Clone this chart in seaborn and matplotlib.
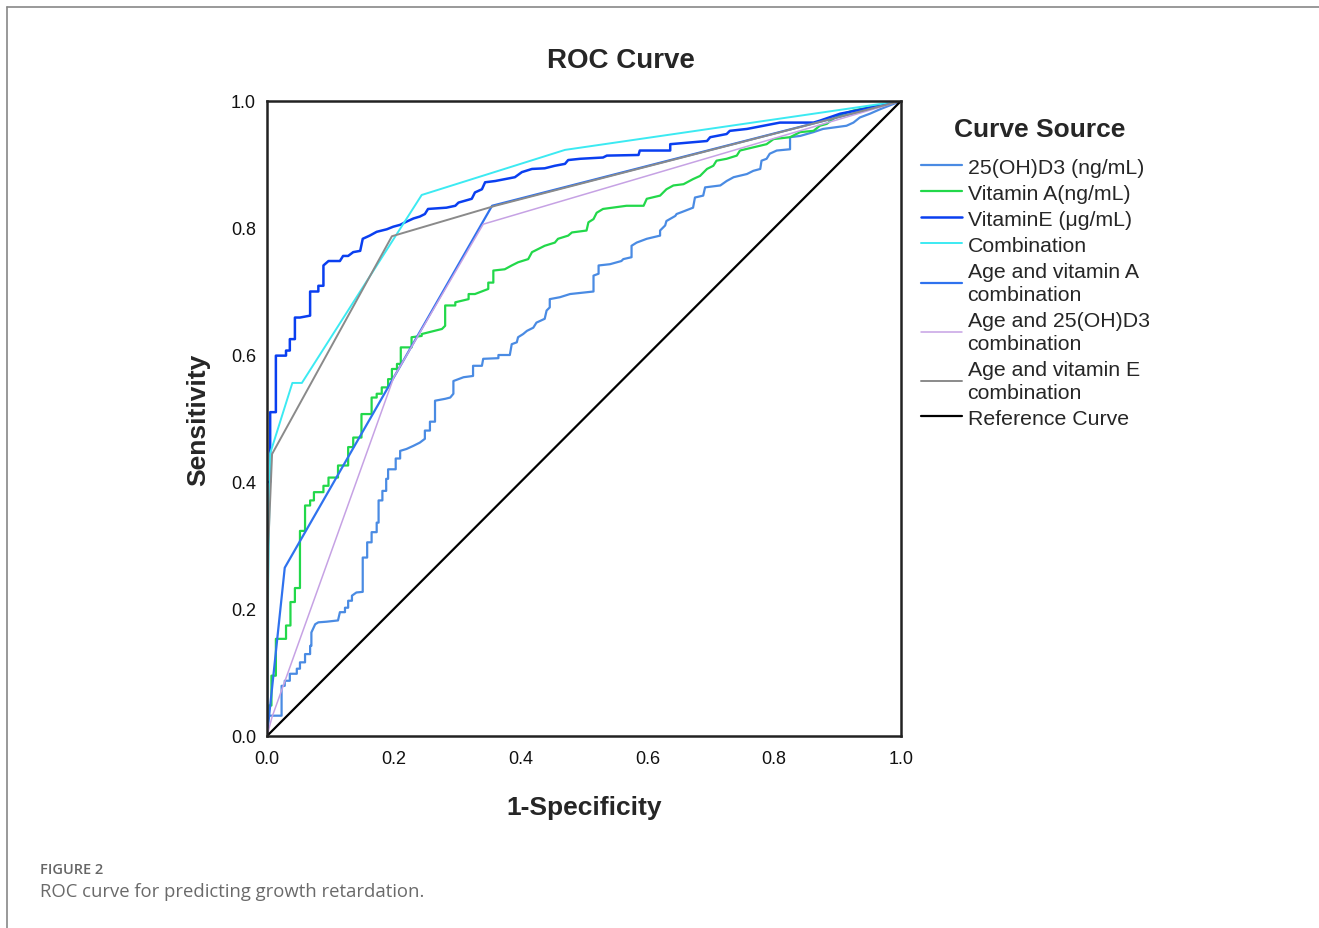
import matplotlib
matplotlib.use("Agg")
import matplotlib.pyplot as plt
from matplotlib.lines import Line2D
import seaborn as sns

# --- ROC curves (x = 1-specificity, y = sensitivity) ---
d3_x = [0, 0.000, 0.002, 0.023, 0.023, 0.028, 0.028, 0.036, 0.036, 0.047, 0.047, 0.052, 0.052, 0.060, 0.060,
        0.068, 0.068, 0.070, 0.070, 0.076, 0.081, 0.094, 0.112, 0.115, 0.123, 0.123, 0.128, 0.128, 0.134, 0.134,
        0.141, 0.151, 0.151, 0.158, 0.158, 0.165, 0.165, 0.173, 0.173, 0.176, 0.176, 0.182, 0.182, 0.188, 0.188,
        0.191, 0.191, 0.203, 0.203, 0.210, 0.210, 0.220, 0.231, 0.241, 0.249, 0.249, 0.257, 0.257, 0.265, 0.265,
        0.281, 0.289, 0.294, 0.294, 0.310, 0.325, 0.325, 0.339, 0.341, 0.365, 0.365, 0.383, 0.386, 0.394, 0.396,
        0.404, 0.410, 0.420, 0.425, 0.438, 0.441, 0.446, 0.446, 0.462, 0.478, 0.515, 0.515, 0.523, 0.523, 0.541,
        0.559, 0.562, 0.575, 0.575, 0.583, 0.599, 0.620, 0.620, 0.628, 0.630, 0.644, 0.646, 0.654, 0.672, 0.675,
        0.688, 0.691, 0.715, 0.725, 0.736, 0.757, 0.767, 0.778, 0.780, 0.788, 0.793, 0.804, 0.825, 0.825, 0.841,
        0.862, 0.877, 0.899, 0.914, 0.925, 0.935, 0.951, 0.967, 1.0]
d3_y = [0, 0.006, 0.032, 0.032, 0.079, 0.079, 0.087, 0.087, 0.098, 0.098, 0.106, 0.106, 0.116, 0.116, 0.129,
        0.129, 0.142, 0.142, 0.163, 0.176, 0.179, 0.180, 0.182, 0.195, 0.195, 0.202, 0.202, 0.213, 0.213, 0.221,
        0.226, 0.227, 0.281, 0.281, 0.305, 0.305, 0.321, 0.321, 0.336, 0.336, 0.371, 0.371, 0.386, 0.386, 0.405,
        0.405, 0.420, 0.420, 0.437, 0.437, 0.449, 0.452, 0.457, 0.462, 0.468, 0.481, 0.481, 0.495, 0.495, 0.528,
        0.531, 0.533, 0.539, 0.559, 0.565, 0.567, 0.583, 0.583, 0.594, 0.595, 0.600, 0.600, 0.617, 0.620, 0.628,
        0.633, 0.638, 0.643, 0.651, 0.657, 0.670, 0.675, 0.688, 0.691, 0.696, 0.700, 0.725, 0.728, 0.741, 0.743,
        0.748, 0.751, 0.754, 0.772, 0.777, 0.783, 0.788, 0.796, 0.804, 0.811, 0.819, 0.822, 0.825, 0.832, 0.848,
        0.851, 0.864, 0.867, 0.874, 0.880, 0.885, 0.890, 0.893, 0.906, 0.909, 0.917, 0.922, 0.924, 0.943, 0.945,
        0.951, 0.956, 0.959, 0.961, 0.966, 0.974, 0.980, 0.987, 1.0]

va_x = [0, 0.002, 0.007, 0.007, 0.014, 0.014, 0.030, 0.030, 0.037, 0.037, 0.044, 0.044, 0.052, 0.052, 0.060,
        0.060, 0.068, 0.068, 0.074, 0.074, 0.089, 0.089, 0.097, 0.097, 0.112, 0.112, 0.128, 0.128, 0.136, 0.136,
        0.149, 0.149, 0.165, 0.165, 0.173, 0.173, 0.181, 0.181, 0.191, 0.191, 0.197, 0.197, 0.205, 0.205, 0.211,
        0.211, 0.228, 0.228, 0.244, 0.244, 0.276, 0.281, 0.281, 0.297, 0.297, 0.318, 0.318, 0.328, 0.349, 0.349,
        0.357, 0.357, 0.375, 0.386, 0.396, 0.412, 0.418, 0.428, 0.438, 0.454, 0.459, 0.475, 0.481, 0.504, 0.507,
        0.515, 0.520, 0.530, 0.567, 0.594, 0.599, 0.620, 0.630, 0.641, 0.657, 0.672, 0.683, 0.694, 0.704, 0.709,
        0.725, 0.741, 0.746, 0.767, 0.788, 0.799, 0.825, 0.841, 0.862, 0.872, 0.883, 0.893, 0.909, 0.925, 1.0]
va_y = [0, 0.048, 0.048, 0.095, 0.095, 0.153, 0.153, 0.174, 0.174, 0.211, 0.211, 0.233, 0.233, 0.323, 0.323,
        0.363, 0.363, 0.371, 0.371, 0.384, 0.384, 0.394, 0.394, 0.407, 0.407, 0.426, 0.426, 0.455, 0.455, 0.470,
        0.470, 0.507, 0.507, 0.533, 0.533, 0.539, 0.539, 0.549, 0.549, 0.562, 0.562, 0.578, 0.578, 0.586, 0.586,
        0.612, 0.612, 0.628, 0.630, 0.633, 0.641, 0.646, 0.678, 0.678, 0.683, 0.688, 0.696, 0.696, 0.704, 0.714,
        0.714, 0.733, 0.735, 0.741, 0.746, 0.751, 0.762, 0.767, 0.772, 0.777, 0.783, 0.788, 0.793, 0.796, 0.809,
        0.814, 0.824, 0.830, 0.835, 0.835, 0.846, 0.851, 0.861, 0.867, 0.869, 0.877, 0.882, 0.893, 0.898, 0.906,
        0.909, 0.914, 0.922, 0.927, 0.932, 0.940, 0.943, 0.951, 0.953, 0.961, 0.964, 0.972, 0.980, 0.985, 1.0]

ve_x = [0, 0, 0.005, 0.005, 0.014, 0.014, 0.030, 0.030, 0.036, 0.036, 0.044, 0.044, 0.052, 0.068, 0.068,
        0.081, 0.081, 0.089, 0.089, 0.097, 0.115, 0.120, 0.128, 0.136, 0.147, 0.151, 0.162, 0.173, 0.189, 0.199,
        0.210, 0.220, 0.231, 0.241, 0.249, 0.254, 0.283, 0.297, 0.302, 0.323, 0.328, 0.339, 0.344, 0.360, 0.391,
        0.402, 0.418, 0.438, 0.454, 0.470, 0.475, 0.494, 0.530, 0.536, 0.586, 0.588, 0.636, 0.636, 0.694, 0.699,
        0.725, 0.730, 0.757, 0.809, 0.862, 0.872, 0.904, 0.930, 1.0]
ve_y = [0, 0.400, 0.400, 0.510, 0.510, 0.599, 0.599, 0.607, 0.607, 0.625, 0.625, 0.659, 0.659, 0.662, 0.700,
        0.700, 0.709, 0.709, 0.741, 0.748, 0.748, 0.756, 0.756, 0.762, 0.764, 0.783, 0.788, 0.794, 0.798, 0.802,
        0.805, 0.810, 0.815, 0.818, 0.822, 0.830, 0.832, 0.835, 0.840, 0.846, 0.856, 0.861, 0.872, 0.874, 0.880,
        0.888, 0.893, 0.894, 0.898, 0.901, 0.907, 0.909, 0.911, 0.914, 0.915, 0.922, 0.922, 0.932, 0.937, 0.943,
        0.948, 0.953, 0.956, 0.966, 0.966, 0.969, 0.980, 0.985, 1.0]

combo_x = [0, 0.002, 0.005, 0.040, 0.055, 0.244, 0.470, 1.0]
combo_y = [0, 0.250, 0.445, 0.556, 0.556, 0.852, 0.923, 1.0]

age_a_x = [0, 0.028, 0.355, 1.0]
age_a_y = [0, 0.265, 0.835, 1.0]

age_d3_x = [0, 0.008, 0.200, 0.341, 1.0]
age_d3_y = [0, 0.030, 0.565, 0.806, 1.0]

age_e_x = [0, 0.002, 0.008, 0.197, 0.360, 1.0]
age_e_y = [0, 0.300, 0.444, 0.787, 0.835, 1.0]

ref_x = [0, 1]
ref_y = [0, 1]

labels = ['25(OH)D3 (ng/mL)', 'Vitamin A(ng/mL)', 'VitaminE (μg/mL)', 'Combination',
          'Age and vitamin A\ncombination', 'Age and 25(OH)D3\ncombination',
          'Age and vitamin E\ncombination', 'Reference Curve']
colors = ['#4a8be3', '#22d84a', '#0a3ff0', '#3ceaf2', '#2f72ee', '#c6a2e4', '#8a8a8a', '#000000']
widths = [1.6, 1.6, 1.8, 1.4, 1.6, 1.1, 1.4, 1.6]

curves = [(d3_x, d3_y), (va_x, va_y), (ve_x, ve_y), (combo_x, combo_y),
          (age_a_x, age_a_y), (age_d3_x, age_d3_y), (age_e_x, age_e_y), (ref_x, ref_y)]

sns.set_style("white")
plt.rcParams['font.family'] = ['Liberation Sans', 'DejaVu Sans']

fig = plt.figure(figsize=(13.19, 9.29), dpi=100)
ax = fig.add_axes([267 / 1319, 1 - 737 / 929, 634 / 1319, 635 / 929])

for (xs, ys), lab, col, lw in zip(curves, labels, colors, widths):
    sns.lineplot(x=xs, y=ys, sort=False, estimator=None, color=col, linewidth=lw,
                 label=lab, ax=ax)

ax.set_xlim(0, 1)
ax.set_ylim(0, 1)
ticks = [0.0, 0.2, 0.4, 0.6, 0.8, 1.0]
ax.set_xticks(ticks)
ax.set_yticks(ticks)
ax.set_xticklabels([f'{t:.1f}' for t in ticks])
ax.set_yticklabels([f'{t:.1f}' for t in ticks])
ax.tick_params(axis='both', length=0, labelsize=13, colors='#111111')
ax.tick_params(axis='x', pad=10)
ax.tick_params(axis='y', pad=8)
for s in ax.spines.values():
    s.set_color('#222222')
    s.set_linewidth(1.8)

ax.set_xlabel('1-Specificity', fontsize=19, fontweight='bold')
ax.set_ylabel('Sensitivity', fontsize=19, fontweight='bold')
ax.xaxis.set_label_coords(0.5, -0.093)
ax.yaxis.set_label_coords(-0.09, 0.5)

fig.text(621 / 1319, 1 - 61 / 929, 'ROC Curve', fontsize=20, fontweight='bold',
         ha='center', va='center')

# legend title drawn on its own, entries below it
fig.text(1040 / 1319, 1 - 130 / 929, 'Curve Source', fontsize=19, fontweight='bold',
         ha='center', va='center')
leg = ax.legend(loc='upper left', bbox_to_anchor=(906 / 1319, 1 - 144 / 929),
                bbox_transform=fig.transFigure, frameon=False, fontsize=15.3,
                handlelength=1.95, handletextpad=0.25, labelspacing=0.33, borderpad=0.2)
for t in leg.get_texts():
    t.set_linespacing(1.26)

# caption below the figure
fig.text(40 / 1319, 1 - 870 / 929, 'FIGURE 2', fontsize=10.5, color='#666666',
         family=['Open Sans', 'DejaVu Sans'], fontweight='semibold', va='center')
fig.text(40 / 1319, 1 - 892 / 929, 'ROC curve for predicting growth retardation.', fontsize=13.3,
         color='#6a6a6a', family=['Open Sans', 'DejaVu Sans'], va='center')

# thin page frame on the left and top
fig.add_artist(Line2D([6.5 / 1319, 6.5 / 1319], [0, 1 - 8 / 929], color='#888888', linewidth=1.2,
                      transform=fig.transFigure))
fig.add_artist(Line2D([6.5 / 1319, 1], [1 - 8 / 929, 1 - 8 / 929], color='#888888', linewidth=1.2,
                      transform=fig.transFigure))

fig.savefig('out.png', dpi=100)
